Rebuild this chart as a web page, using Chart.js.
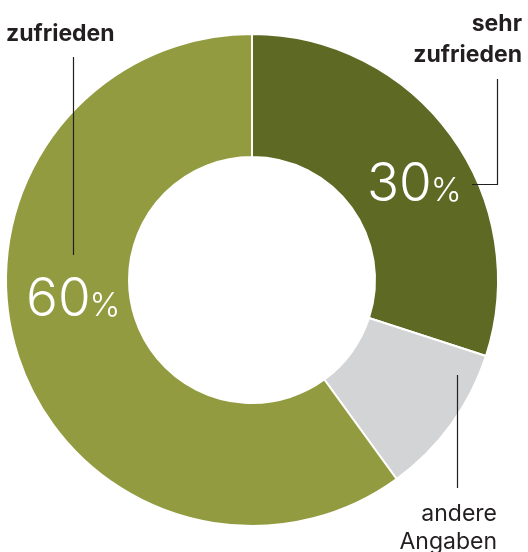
<!DOCTYPE html>
<html lang="de">
<head>
<meta charset="UTF-8">
<title>Zufriedenheit</title>
<script src="https://cdn.jsdelivr.net/npm/chart.js"></script>
<style>
  html, body { margin: 0; padding: 0; background: #ffffff; }
  #wrap { width: 528px; height: 552px; position: relative; }
</style>
</head>
<body>
<div id="wrap"><canvas id="donut" width="528" height="552"></canvas></div>
<script>
// data
const categories = ['sehr zufrieden', 'andere Angaben', 'zufrieden'];
const shares = [30, 10, 60];
const sliceColors = ['#5e6924', '#d3d4d6', '#939b40'];

// annotations drawn on top of the donut
const annotate = {
    id: 'annotate',
    afterDraw(chart) {
        const ctx = chart.ctx;
        ctx.save();
        // leader lines
        ctx.strokeStyle = '#231f20';
        ctx.lineWidth = 1.2;
        ctx.beginPath();
        ctx.moveTo(73.5, 57); ctx.lineTo(73.5, 255);
        ctx.moveTo(497.5, 79); ctx.lineTo(497.5, 184.5); ctx.lineTo(472, 184.5);
        ctx.moveTo(457.5, 375); ctx.lineTo(457.5, 488);
        ctx.stroke();

        // category labels
        ctx.fillStyle = '#231f20';
        ctx.textBaseline = 'alphabetic';
        ctx.font = 'bold 23px Inter, "Noto Sans", sans-serif';
        ctx.textAlign = 'left';
        ctx.fillText('zufrieden', 6, 41);
        ctx.textAlign = 'right';
        ctx.fillText('sehr', 522, 31);
        ctx.fillText('zufrieden', 522, 62);
        ctx.font = '23px Inter, "Noto Sans", sans-serif';
        ctx.fillText('andere', 497, 521);
        ctx.fillText('Angaben', 497, 549);

        // percentage labels
        ctx.fillStyle = '#ffffff';
        const pct = (value, x, y) => {
            ctx.textAlign = 'left';
            ctx.font = '300 53px Inter, "Noto Sans", sans-serif';
            const num = String(value);
            ctx.fillText(num, x, y);
            const w = ctx.measureText(num).width;
            ctx.font = '300 33px Inter, "Noto Sans", sans-serif';
            ctx.fillText('%', x + w - 1, y);
        };
        pct(shares[0], 367, 201);
        pct(shares[2], 26, 316);
        ctx.restore();
    }
};

new Chart(document.getElementById('donut'), {
    type: 'doughnut',
    data: {
        labels: categories,
        datasets: [{
            data: shares,
            backgroundColor: sliceColors,
            borderColor: '#ffffff',
            borderWidth: 2
        }]
    },
    options: {
        responsive: false,
        animation: false,
        cutout: '50%',
        layout: { padding: { left: 5, right: 29, top: 33, bottom: 25 } },
        plugins: {
            legend: { display: false },
            tooltip: { enabled: false }
        }
    },
    plugins: [annotate]
});
</script>
</body>
</html>
